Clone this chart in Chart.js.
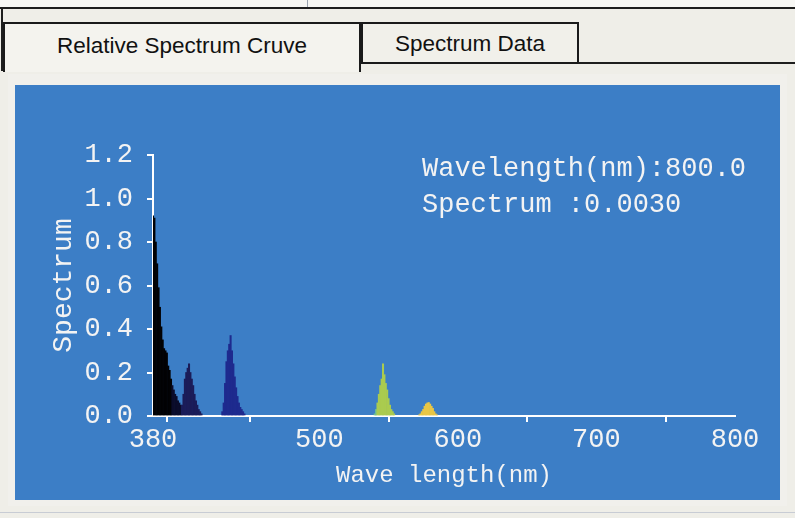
<!DOCTYPE html>
<html>
<head>
<meta charset="utf-8">
<script src="https://cdn.jsdelivr.net/npm/chart.js@4.4.1/dist/chart.umd.min.js"></script>
<style>
  body { margin: 0; width: 795px; height: 518px; background: #efeee8; position: relative; overflow: hidden; font-family: 'Liberation Sans', Arial, sans-serif; }
  .strip { position: absolute; left: 0; top: 0; width: 795px; height: 7px; background: #f7f7f4; }
  .strip-mark { position: absolute; left: 307px; top: 0; width: 1px; height: 7px; background: #9aa3b0; }
  .topline { position: absolute; left: 0; top: 7px; width: 795px; height: 2px; background: #1e1e1e; }
  .leftline { position: absolute; left: 1px; top: 7px; width: 2px; height: 64px; background: #1e1e1e; }
  .tab { position: absolute; box-sizing: border-box; border: 2px solid #1a1a1a; font-size: 22.5px; color: #111; text-align: center; }
  .tab1 { left: 3px; top: 22px; width: 358px; height: 50px; border-bottom: none; background: #f4f3ee; line-height: 44px; }
  .tab2 { left: 361px; top: 22px; width: 218px; height: 42px; background: #f1f0ea; line-height: 40px; }
  .tabline { position: absolute; left: 578px; top: 62px; width: 217px; height: 2px; background: #1e1e1e; }
  .frame { position: absolute; left: 8px; top: 74px; width: 779px; height: 432px; background: #f1f0ec; }
  .panel { position: absolute; left: 15px; top: 85px; width: 765px; height: 415px; background: #3c7ec6; }
  .bottomline { position: absolute; left: 0; top: 512px; width: 795px; height: 1px; background: #c8ccd4; }
</style>
</head>
<body>
<div class="strip"></div>
<div class="strip-mark"></div>
<div class="topline"></div>
<div class="leftline"></div>
<div class="frame"></div>
<div class="tab tab1">Relative Spectrum Cruve</div>
<div class="tab tab2">Spectrum Data</div>
<div class="tabline"></div>
<div class="panel"><canvas id="spectrum"></canvas></div>
<div class="bottomline"></div>

<script>
// readings, 1 nm steps, one group per mercury line
const tailNm   = [380, 381, 382, 383, 384, 385, 386, 387, 388, 389, 390, 391, 392, 393, 394, 395, 396, 397, 398, 399, 400];
const tailVal  = [0.92, 0.91, 0.80, 0.70, 0.59, 0.50, 0.41, 0.35, 0.31, 0.30, 0.29, 0.23, 0.21, 0.17, 0.14, 0.12, 0.10, 0.09, 0.07, 0.06, 0.05];
const violetNm  = [401, 402, 403, 404, 405, 406, 407, 408, 409, 410, 411, 412, 413, 414, 415];
const violetVal = [0.05, 0.10, 0.17, 0.20, 0.22, 0.24, 0.20, 0.17, 0.14, 0.10, 0.07, 0.05, 0.03, 0.02, 0.01];
const blueNm   = [430, 431, 432, 433, 434, 435, 436, 437, 438, 439, 440, 441, 442, 443, 444, 445, 446];
const blueVal  = [0.02, 0.06, 0.15, 0.25, 0.30, 0.33, 0.37, 0.30, 0.24, 0.18, 0.13, 0.09, 0.06, 0.04, 0.03, 0.02, 0.01];
const greenNm  = [540, 541, 542, 543, 544, 545, 546, 547, 548, 549, 550, 551, 552, 553, 554];
const greenVal = [0.01, 0.03, 0.06, 0.10, 0.14, 0.17, 0.24, 0.19, 0.15, 0.12, 0.08, 0.05, 0.03, 0.02, 0.01];
const yellowNm  = [572, 573, 574, 575, 576, 577, 578, 579, 580, 581, 582, 583, 584, 585];
const yellowVal = [0.005, 0.01, 0.02, 0.03, 0.045, 0.055, 0.06, 0.062, 0.055, 0.045, 0.035, 0.02, 0.01, 0.005];

const xTicks = [380, 400, 500, 600, 700, 800];
const yTicks = [0, 0.2, 0.4, 0.6, 0.8, 1.0, 1.2];

const readout = ['Wavelength(nm):800.0', 'Spectrum :0.0030'];

const allNm = tailNm.concat(violetNm, blueNm, greenNm, yellowNm);
const allVal = tailVal.concat(violetVal, blueVal, greenVal, yellowVal);
const points = allNm.map((nm, i) => ({ x: nm, y: allVal[i] }));

function barColor(nm) {
    if (nm < 394) return '#020204';
    if (nm <= 400) return '#0b0c2a';
    if (nm < 420) return '#1b1c58';
    if (nm < 500) return '#1e2a8e';
    if (nm < 542) return '#70c08c';
    if (nm < 565) return '#aacb4f';
    return '#e8c646';
}

const monoFont = "'Liberation Mono', 'DejaVu Sans Mono', monospace";
const textColor = '#f3f3f3';

const readoutPlugin = {
    id: 'readout',
    afterDraw(chart) {
        const ctx = chart.ctx;
        ctx.save();
        ctx.font = '27px ' + monoFont;
        ctx.fillStyle = textColor;
        ctx.textBaseline = 'middle';
        ctx.fillText(readout[0], 407, 84);
        ctx.fillText(readout[1], 407, 120);
        ctx.restore();
    }
};

new Chart(document.getElementById('spectrum'), {
    type: 'bar',
    data: {
        datasets: [{
            data: points,
            backgroundColor: (c) => barColor(c.raw ? c.raw.x : 400),
            borderWidth: 0,
            barPercentage: 1,
            categoryPercentage: 1
        }]
    },
    plugins: [readoutPlugin],
    options: {
        responsive: true,
        maintainAspectRatio: false,
        animation: false,
        layout: { padding: { top: 70, right: 45, left: 0, bottom: 0 } },
        plugins: {
            legend: { display: false },
            tooltip: { enabled: false }
        },
        scales: {
            x: {
                type: 'linear',
                min: 380,
                max: 800,
                offset: false,
                afterBuildTicks: (scale) => { scale.ticks = xTicks.map(v => ({ value: v })); },
                afterFit: (scale) => { scale.height = 84; },
                ticks: {
                    color: textColor,
                    font: { family: monoFont, size: 27 },
                    padding: 2,
                    maxRotation: 0,
                    autoSkip: false,
                    callback: (v) => v === 400 ? '' : String(v)
                },
                grid: { drawOnChartArea: false, color: '#ffffff', tickLength: 6, lineWidth: 2 },
                border: { color: '#ffffff', width: 2 },
                title: {
                    display: true,
                    text: 'Wave length(nm)',
                    color: textColor,
                    font: { family: monoFont, size: 24 },
                    padding: { top: 0, bottom: 10 }
                }
            },
            y: {
                min: 0,
                max: 1.2,
                afterBuildTicks: (scale) => { scale.ticks = yTicks.map(v => ({ value: v })); },
                afterFit: (scale) => { scale.width = 138; },
                ticks: {
                    color: textColor,
                    font: { family: monoFont, size: 27 },
                    padding: 14,
                    callback: (v) => Number(v).toFixed(1)
                },
                grid: { drawOnChartArea: false, color: '#ffffff', tickLength: 6, lineWidth: 2 },
                border: { color: '#ffffff', width: 2 },
                title: {
                    display: true,
                    text: 'Spectrum',
                    color: textColor,
                    font: { family: monoFont, size: 28 },
                    padding: { top: 32, bottom: 0 }
                }
            }
        }
    }
});
</script>
</body>
</html>
